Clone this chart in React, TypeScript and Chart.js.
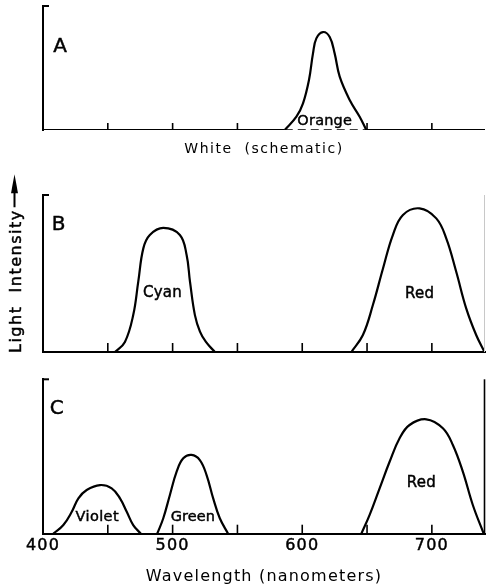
import React, { useEffect, useRef } from "react";
import { Chart, registerables } from "chart.js";

Chart.register(...registerables);

const INK = "#000000";
const FONT = "'DejaVu Sans', 'Liberation Sans', sans-serif";

// ---------- axis ----------
const wavelengthMin = 400;
const wavelengthMax = 741;
const tickLabelValues = [400, 500, 600, 700];
const tickMarksA = [450, 500, 550, 650, 700];
const tickMarksB = [450, 500, 550, 600, 650, 700];
const tickMarksC = [450, 500, 550, 600, 650, 700];

// ---------- Panel A: Orange on white (schematic) ----------
const orangeNm = [586.5, 595.5, 600.6, 605.2, 608.3, 610.9, 616.0, 621.2, 625.0, 628.9, 636.6, 644.3, 649.4];
const orangeI = [0, 0.107, 0.215, 0.403, 0.618, 0.739, 0.79, 0.75, 0.618, 0.43, 0.242, 0.107, 0];

// ---------- Panel B: Cyan + Red ----------
const cyanNm = [455.5, 463.2, 469.6, 473.5, 477.4, 482.4, 492.8, 505.6, 510.8, 513.4, 517.2, 521.1, 525.7, 532.6];
const cyanI = [0, 0.064, 0.235, 0.448, 0.66, 0.745, 0.79, 0.745, 0.618, 0.448, 0.235, 0.13, 0.064, 0];
const redBNm = [637.9, 646.8, 654.5, 662.3, 669.9, 677.7, 690.5, 703.4, 711.1, 718.8, 726.5, 734.2, 740.6];
const redBI = [0, 0.108, 0.299, 0.532, 0.745, 0.873, 0.915, 0.851, 0.724, 0.511, 0.278, 0.108, 0];

// ---------- Panel C: Violet + Green + Red ----------
const violetNm = [408.0, 415.7, 422.2, 427.3, 433.7, 444.0, 453.0, 459.4, 464.6, 469.6, 475.5];
const violetI = [0, 0.056, 0.142, 0.229, 0.283, 0.315, 0.294, 0.229, 0.142, 0.056, 0];
const greenNm = [488.1, 492.8, 497.9, 503.1, 508.2, 514.6, 521.0, 526.2, 531.3, 536.4, 542.8];
const greenI = [0, 0.1, 0.251, 0.402, 0.488, 0.51, 0.477, 0.38, 0.229, 0.1, 0];
const redCNm = [645.6, 652.0, 659.7, 667.4, 675.1, 682.8, 695.7, 708.5, 716.2, 723.9, 731.6, 740.0];
const redCI = [0, 0.122, 0.294, 0.466, 0.618, 0.704, 0.741, 0.683, 0.575, 0.402, 0.186, 0];

const toPoints = (xs: number[], ys: number[]) => xs.map((x, i) => ({ x, y: ys[i] }));

const curve = (xs: number[], ys: number[]) => ({
  data: toPoints(xs, ys),
  borderColor: INK,
  borderWidth: 2.2,
  pointRadius: 0,
  fill: false,
  tension: 0.4,
});

const flat = (x0: number, x1: number, dashed: boolean) => ({
  data: [
    { x: x0, y: 0 },
    { x: x1, y: 0 },
  ],
  borderColor: INK,
  borderWidth: dashed ? 1.6 : 2,
  borderDash: dashed ? [8, 5] : [],
  pointRadius: 0,
  fill: false,
  tension: 0,
});

type LabelSpec = { text: string; nm: number; v: number; size: number; ls: number };

type PanelSpec = {
  key: string;
  top: number;
  height: number;
  padTop: number;
  axisHeight: number;
  letter: { text: string; nm: number; v: number };
  tickMarks: number[];
  tickLen: number;
  datasets: any[];
  labels: LabelSpec[];
  rightBorder: string | null;
  showTickLabels: boolean;
  xBorder: boolean;
  xTitle: { text: string; size: number; padBottom: number } | null;
  textSpacing: number;
  yArrowTitle: boolean;
};

const panels: PanelSpec[] = [
  {
    key: "A",
    top: 0,
    height: 165,
    padTop: 6,
    axisHeight: 35,
    letter: { text: "A", nm: 413.2, v: 0.69 },
    tickMarks: tickMarksA,
    tickLen: 7,
    datasets: [
      flat(wavelengthMin, orangeNm[0], false),
      flat(orangeNm[0], orangeNm[orangeNm.length - 1], true),
      flat(orangeNm[orangeNm.length - 1], wavelengthMax, false),
      curve(orangeNm, orangeI),
    ],
    labels: [{ text: "Orange", nm: 617.3, v: 0.085, size: 14.5, ls: 0.2 }],
    rightBorder: null,
    showTickLabels: false,
    xBorder: false,
    xTitle: { text: "White  (schematic)", size: 14, padBottom: 7.6 },
    textSpacing: 1.5,
    yArrowTitle: false,
  },
  {
    key: "B",
    top: 165,
    height: 195,
    padTop: 30,
    axisHeight: 8,
    letter: { text: "B", nm: 412, v: 0.826 },
    tickMarks: tickMarksB,
    tickLen: 9,
    datasets: [curve(cyanNm, cyanI), curve(redBNm, redBI)],
    labels: [
      { text: "Cyan", nm: 492.1, v: 0.384, size: 15, ls: 0.3 },
      { text: "Red", nm: 690.5, v: 0.382, size: 15, ls: 0.3 },
    ],
    rightBorder: "#c8c8c8",
    showTickLabels: false,
    xBorder: true,
    xTitle: null,
    textSpacing: 0,
    yArrowTitle: true,
  },
  {
    key: "C",
    top: 360,
    height: 228,
    padTop: 19.3,
    axisHeight: 54.3,
    letter: { text: "C", nm: 410.5, v: 0.825 },
    tickMarks: tickMarksC,
    tickLen: 9,
    datasets: [curve(violetNm, violetI), curve(greenNm, greenI), curve(redCNm, redCI)],
    labels: [
      { text: "Violet", nm: 441.7, v: 0.116, size: 14.5, ls: 0.4 },
      { text: "Green", nm: 515.6, v: 0.116, size: 14.5, ls: 0.1 },
      { text: "Red", nm: 691.8, v: 0.34, size: 15, ls: 0.3 },
    ],
    rightBorder: INK,
    showTickLabels: true,
    xBorder: true,
    xTitle: { text: "Wavelength (nanometers)", size: 16, padBottom: 1.4 },
    textSpacing: 1.2,
    yArrowTitle: false,
  },
];

function drawCentered(ctx: CanvasRenderingContext2D, text: string, cx: number, cy: number, size: number, ls: number) {
  ctx.font = `${size}px ${FONT}`;
  (ctx as any).letterSpacing = `${ls}px`;
  ctx.textAlign = "center";
  ctx.textBaseline = "alphabetic";
  const bx = cx + ls / 2;
  const by = cy + size * 0.365;
  ctx.fillText(text, bx, by);
  ctx.lineWidth = 0.45;
  ctx.strokeText(text, bx, by);
}

function makeOverlay(p: PanelSpec) {
  return {
    id: "overlay" + p.key,
    beforeDraw(chart: any) {
      (chart.ctx as any).letterSpacing = `${p.textSpacing}px`;
    },
    afterDraw(chart: any) {
      const { ctx, chartArea } = chart;
      const x = chart.scales.x;
      const y = chart.scales.y;
      ctx.save();
      (ctx as any).letterSpacing = "0px";
      ctx.strokeStyle = INK;
      ctx.fillStyle = INK;
      ctx.lineCap = "butt";

      const yTop = y.getPixelForValue(1);
      const y0 = y.getPixelForValue(0);

      // top bracket of the left axis
      ctx.lineWidth = 2;
      ctx.beginPath();
      ctx.moveTo(chartArea.left - 1, yTop);
      ctx.lineTo(chartArea.left + 6, yTop);
      ctx.stroke();

      // inward tick marks
      ctx.lineWidth = 1.6;
      for (const t of p.tickMarks) {
        const px = x.getPixelForValue(t);
        ctx.beginPath();
        ctx.moveTo(px, y0);
        ctx.lineTo(px, y0 - p.tickLen);
        ctx.stroke();
      }

      // right border
      if (p.rightBorder) {
        ctx.strokeStyle = p.rightBorder;
        ctx.lineWidth = p.rightBorder === INK ? 1.6 : 1;
        const rx = x.getPixelForValue(wavelengthMax) - 0.5;
        ctx.beginPath();
        ctx.moveTo(rx, yTop);
        ctx.lineTo(rx, y0);
        ctx.stroke();
        ctx.strokeStyle = INK;
      }

      // panel letter
      drawCentered(ctx, p.letter.text, x.getPixelForValue(p.letter.nm), y.getPixelForValue(p.letter.v), 20, 0);

      // curve labels
      for (const l of p.labels) {
        drawCentered(ctx, l.text, x.getPixelForValue(l.nm), y.getPixelForValue(l.v), l.size, l.ls);
      }

      // vertical "Light Intensity" title with arrow
      if (p.yArrowTitle) {
        const baseX = chartArea.left - 22;
        const startY = y0 + 1;
        const text = "Light  Intensity";
        ctx.save();
        ctx.translate(baseX, startY);
        ctx.rotate(-Math.PI / 2);
        ctx.font = `16px ${FONT}`;
        (ctx as any).letterSpacing = "1.5px";
        ctx.textAlign = "left";
        ctx.textBaseline = "alphabetic";
        ctx.fillText(text, 0, 0);
        ctx.lineWidth = 0.45;
        ctx.strokeText(text, 0, 0);
        const w = ctx.measureText(text).width;
        ctx.restore();
        const cx = baseX - 6.5;
        const endY = startY - w;
        ctx.lineWidth = 2;
        ctx.beginPath();
        ctx.moveTo(cx, endY - 2);
        ctx.lineTo(cx, endY - 18);
        ctx.stroke();
        ctx.beginPath();
        ctx.moveTo(cx, endY - 35);
        ctx.lineTo(cx - 3.5, endY - 16);
        ctx.lineTo(cx + 3.5, endY - 16);
        ctx.closePath();
        ctx.fill();
      }
      ctx.restore();
      (ctx as any).letterSpacing = "0px";
    },
  };
}

function buildConfig(p: PanelSpec): any {
  return {
    type: "line",
    data: { datasets: p.datasets },
    options: {
      responsive: false,
      animation: false,
      devicePixelRatio: 1,
      events: [],
      layout: { padding: { top: p.padTop, left: 43, right: 1, bottom: 0 } },
      plugins: { legend: { display: false }, tooltip: { enabled: false }, title: { display: false } },
      scales: {
        x: {
          type: "linear",
          min: wavelengthMin,
          max: wavelengthMax,
          display: true,
          afterFit: (s: any) => {
            s.height = p.axisHeight;
          },
          afterBuildTicks: (s: any) => {
            s.ticks = tickLabelValues.map((v) => ({ value: v }));
          },
          ticks: {
            display: p.showTickLabels,
            padding: 3,
            color: INK,
            autoSkip: false,
            maxRotation: 0,
            textStrokeColor: INK,
            textStrokeWidth: 0.45,
            font: { family: FONT, size: 16 },
            callback: (v: any) => String(v),
          },
          grid: { display: false, drawTicks: false },
          border: { display: p.xBorder, color: INK, width: 2 },
          title: p.xTitle
            ? {
                display: true,
                text: p.xTitle.text,
                color: INK,
                font: { family: FONT, size: p.xTitle.size },
                padding: { top: 0, bottom: p.xTitle.padBottom },
              }
            : { display: false },
        },
        y: {
          type: "linear",
          min: 0,
          max: 1,
          display: true,
          afterFit: (s: any) => {
            s.width = 0;
          },
          ticks: { display: false },
          grid: { display: false, drawTicks: false },
          border: { display: true, color: INK, width: 2 },
        },
      },
    },
    plugins: [makeOverlay(p)],
  };
}

function Panel({ spec }: { spec: PanelSpec }) {
  const ref = useRef<HTMLCanvasElement>(null);
  useEffect(() => {
    if (!ref.current) return;
    const chart = new Chart(ref.current, buildConfig(spec));
    return () => chart.destroy();
  }, [spec]);
  return (
    <canvas
      ref={ref}
      width={486}
      height={spec.height}
      style={{ position: "absolute", left: 0, top: spec.top, width: 486, height: spec.height, display: "block" }}
    />
  );
}

export default function App() {
  return (
    <div style={{ position: "absolute", left: 0, top: 0, width: 486, height: 588, background: "#ffffff", overflow: "hidden" }}>
      {panels.map((p) => (
        <Panel key={p.key} spec={p} />
      ))}
    </div>
  );
}
